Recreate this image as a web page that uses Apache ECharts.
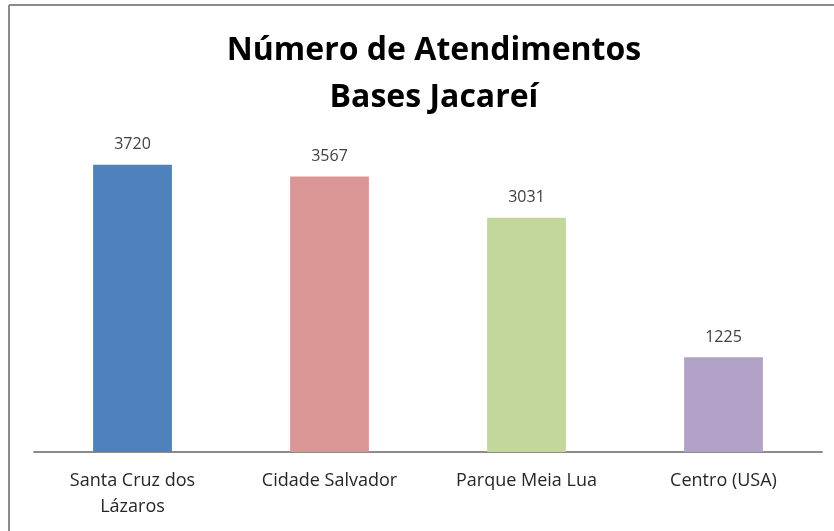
<!DOCTYPE html>
<html><head><meta charset="utf-8">
<script src="https://cdn.jsdelivr.net/npm/echarts@6/dist/echarts.min.js"></script>
<style>html,body{margin:0;padding:0;background:#fff}#c{width:834px;height:531px}</style>
</head><body><div id="c"></div>
<script>
const categories = ['Santa Cruz dos\nLázaros', 'Cidade Salvador', 'Parque Meia Lua', 'Centro (USA)'];
const values = [3720, 3567, 3031, 1225];
const colors = ['#4f81bd', '#d99694', '#c3d69b', '#b3a2c7'];
const titleLines = ['Número de Atendimentos', 'Bases Jacareí'];

const chart = echarts.init(document.getElementById('c'));
chart.setOption({
  backgroundColor: '#fff',
  animation: false,
  title: {
    text: titleLines.join('\n'),
    left: 429, top: 22, textAlign: 'center',
    textStyle: { fontFamily: 'Open Sans', fontWeight: 'bold', fontSize: 32, color: '#000', lineHeight: 47 }
  },
  graphic: [
    { type: 'line', shape: { x1: 9, y1: 5, x2: 834, y2: 5 }, style: { stroke: '#8c8c8c', lineWidth: 2 } },
    { type: 'line', shape: { x1: 9, y1: 5, x2: 9, y2: 531 }, style: { stroke: '#8c8c8c', lineWidth: 2 } }
  ],
  grid: { left: 34, right: 12, top: 143, bottom: 79 },
  xAxis: {
    type: 'category', data: categories,
    axisLine: { lineStyle: { color: '#8c8c8c', width: 2 } },
    axisTick: { show: false },
    axisLabel: { color: '#262626', fontFamily: 'Open Sans', fontSize: 18, margin: 16, lineHeight: 26, interval: 0 }
  },
  yAxis: { type: 'value', min: 0, max: 4000, show: false, splitLine: { show: false } },
  series: [{
    type: 'bar', barWidth: '40%',
    data: values.map((v, i) => ({ value: v, itemStyle: { color: colors[i] } })),
    label: { show: true, position: 'top', distance: 12, color: '#404040', fontFamily: 'Open Sans', fontSize: 16 }
  }]
});
</script></body></html>
